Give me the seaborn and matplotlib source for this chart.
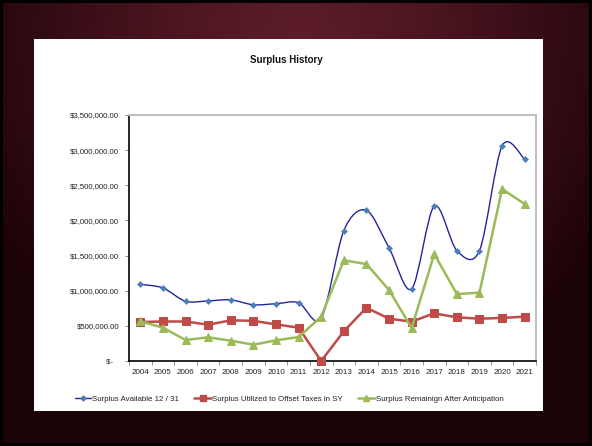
import numpy as np
import pandas as pd
import matplotlib
matplotlib.use("Agg")
import matplotlib.pyplot as plt
import seaborn as sns
from matplotlib.path import Path
from matplotlib.patches import PathPatch, Rectangle
from matplotlib.ticker import FuncFormatter, MultipleLocator, FixedLocator, NullFormatter
from matplotlib.lines import Line2D

years = [2004, 2005, 2006, 2007, 2008, 2009, 2010, 2011, 2012,
         2013, 2014, 2015, 2016, 2017, 2018, 2019, 2020, 2021]
available = [1090000, 1040000, 850000, 855000, 870000, 800000, 815000, 830000, 605000,
             1855000, 2145000, 1610000, 1025000, 2205000, 1570000, 1570000, 3060000, 2870000]
utilized = [555000, 562000, 562000, 517000, 578000, 572000, 521000, 474000, 0,
            422000, 758000, 602000, 560000, 678000, 621000, 602000, 612000, 631000]
remaining = [565000, 474000, 299000, 337000, 289000, 232000, 294000, 341000, 631000,
             1432000, 1380000, 1010000, 469000, 1522000, 953000, 972000, 2447000, 2234000]

series_names = ["Surplus Available 12 / 31",
                "Surplus Utilized to Offset Taxes in SY",
                "Surplus Remainign After Anticipation"]

W, H = 592, 446
sns.set_theme(style="white")
plt.rcParams['font.family'] = ['Liberation Sans', 'DejaVu Sans']

fig = plt.figure(figsize=(W / 100, H / 100), dpi=100)
fig.patch.set_facecolor("black")

# dark maroon backdrop with a soft vignette
bg = fig.add_axes([0, 0, 1, 1], zorder=0)
bg.axis("off")
yy, xx = np.mgrid[0:H, 0:W]
d = np.sqrt(((xx - 300) / 360.0) ** 2 + ((yy - 30) / 380.0) ** 2)
t = np.clip(d, 0, 1) ** 1.3
c_in = np.array([0x5c, 0x1c, 0x29]) / 255.0
c_out = np.array([0x1c, 0x03, 0x07]) / 255.0
img = c_in[None, None, :] * (1 - t[..., None]) + c_out[None, None, :] * t[..., None]
b = 3
img[:b, :, :] = 0
img[-b:, :, :] = 0
img[:, :b, :] = 0
img[:, -b:, :] = 0
bg.imshow(img, extent=[0, W, H, 0], aspect="auto", interpolation="bilinear")
bg.set_xlim(0, W)
bg.set_ylim(H, 0)

# white chart panel
panel = Rectangle((34 / W, (H - 411) / H), 509 / W, 372 / H,
                  transform=fig.transFigure, facecolor="white", edgecolor="none", zorder=1)
fig.add_artist(panel)

ax = fig.add_axes([129 / W, (H - 361) / H, 407 / W, 246 / H], zorder=2)
ax.set_facecolor("white")

x = np.arange(len(years))
df = pd.DataFrame({"pos": x, "available": available,
                   "utilized": utilized, "remaining": remaining})

navy = "#25259a"
blue_mk = "#4a7ebb"
red = "#be4b48"
green = "#9bbb59"

# smoothed curve for available surplus (cardinal spline as bezier segments)
pts = np.column_stack([df["pos"].to_numpy(float), df["available"].to_numpy(float)])
n = len(pts)
k = 1.0 / 6.5
verts = [pts[0]]
codes = [Path.MOVETO]
for i in range(n - 1):
    p0 = pts[i - 1] if i > 0 else pts[i]
    p1 = pts[i]
    p2 = pts[i + 1]
    p3 = pts[i + 2] if i + 2 < n else pts[i + 1]
    c1 = p1 + (p2 - p0) * k
    c2 = p2 - (p3 - p1) * k
    verts += [c1, c2, p2]
    codes += [Path.CURVE4] * 3
ax.add_patch(PathPatch(Path(verts, codes), facecolor="none", edgecolor=navy,
                       lw=1.0, zorder=3))
sns.scatterplot(data=df, x="pos", y="available", marker="D", s=10, color=blue_mk,
                edgecolor=blue_mk, linewidth=0.3, ax=ax, zorder=4)

sns.lineplot(data=df, x="pos", y="utilized", color=red, lw=1.8, marker="s",
             markersize=5.8, markeredgecolor=red, ax=ax, zorder=5, clip_on=False)
sns.lineplot(data=df, x="pos", y="remaining", color=green, lw=1.8, marker="^",
             markersize=6, markeredgecolor=green, ax=ax, zorder=6, clip_on=False)

ax.set_xlim(-0.5, len(years) - 0.5)
ax.set_ylim(0, 3500000)
ax.set_xlabel("")
ax.set_ylabel("")

ax.xaxis.set_major_locator(FixedLocator(x))
ax.set_xticklabels([str(y) for y in years])
ax.xaxis.set_minor_locator(FixedLocator(np.arange(-0.5, len(years), 1.0)))
ax.xaxis.set_minor_formatter(NullFormatter())
ax.tick_params(axis="x", which="major", length=0, labelsize=5.8, pad=5.5, colors="#222222")
ax.tick_params(axis="x", which="minor", length=3, width=0.6, color="#808080", bottom=True)

ax.yaxis.set_major_locator(MultipleLocator(500000))
ax.yaxis.set_major_formatter(FuncFormatter(
    lambda v, p: "$-   " if v == 0 else "${:,.2f}".format(v)))
ax.tick_params(axis="y", which="major", length=3, width=0.6, color="#808080",
               labelsize=5.6, pad=4, left=True, colors="#222222")

ax.spines["left"].set_color("black")
ax.spines["left"].set_linewidth(1.2)
ax.spines["bottom"].set_color("black")
ax.spines["bottom"].set_linewidth(1.2)
ax.spines["top"].set_color("#c0c0c0")
ax.spines["top"].set_linewidth(1.5)
ax.spines["right"].set_color("#c0c0c0")
ax.spines["right"].set_linewidth(1.5)
ax.grid(False)

fig.text(286.5 / W, 1 - 60 / H, "Surplus History", fontsize=7, fontweight="bold",
         ha="center", va="center", color="#111111", zorder=3)

handles = [
    Line2D([], [], color=navy, lw=1.0, marker="D", markersize=2.5,
           markerfacecolor=blue_mk, markeredgecolor=blue_mk),
    Line2D([], [], color=red, lw=1.8, marker="s", markersize=5,
           markerfacecolor=red, markeredgecolor=red),
    Line2D([], [], color=green, lw=1.8, marker="^", markersize=5,
           markerfacecolor=green, markeredgecolor=green),
]
leg = fig.legend(handles, series_names, loc="center", ncol=3,
                 bbox_to_anchor=(289 / W, 1 - 399 / H), frameon=False,
                 fontsize=5.7, handlelength=2.1, handletextpad=0.15,
                 columnspacing=1.9, borderaxespad=0)
leg.set_zorder(3)
for txt in leg.get_texts():
    txt.set_color("#222222")

fig.savefig("out.png", dpi=100, facecolor=fig.get_facecolor())
